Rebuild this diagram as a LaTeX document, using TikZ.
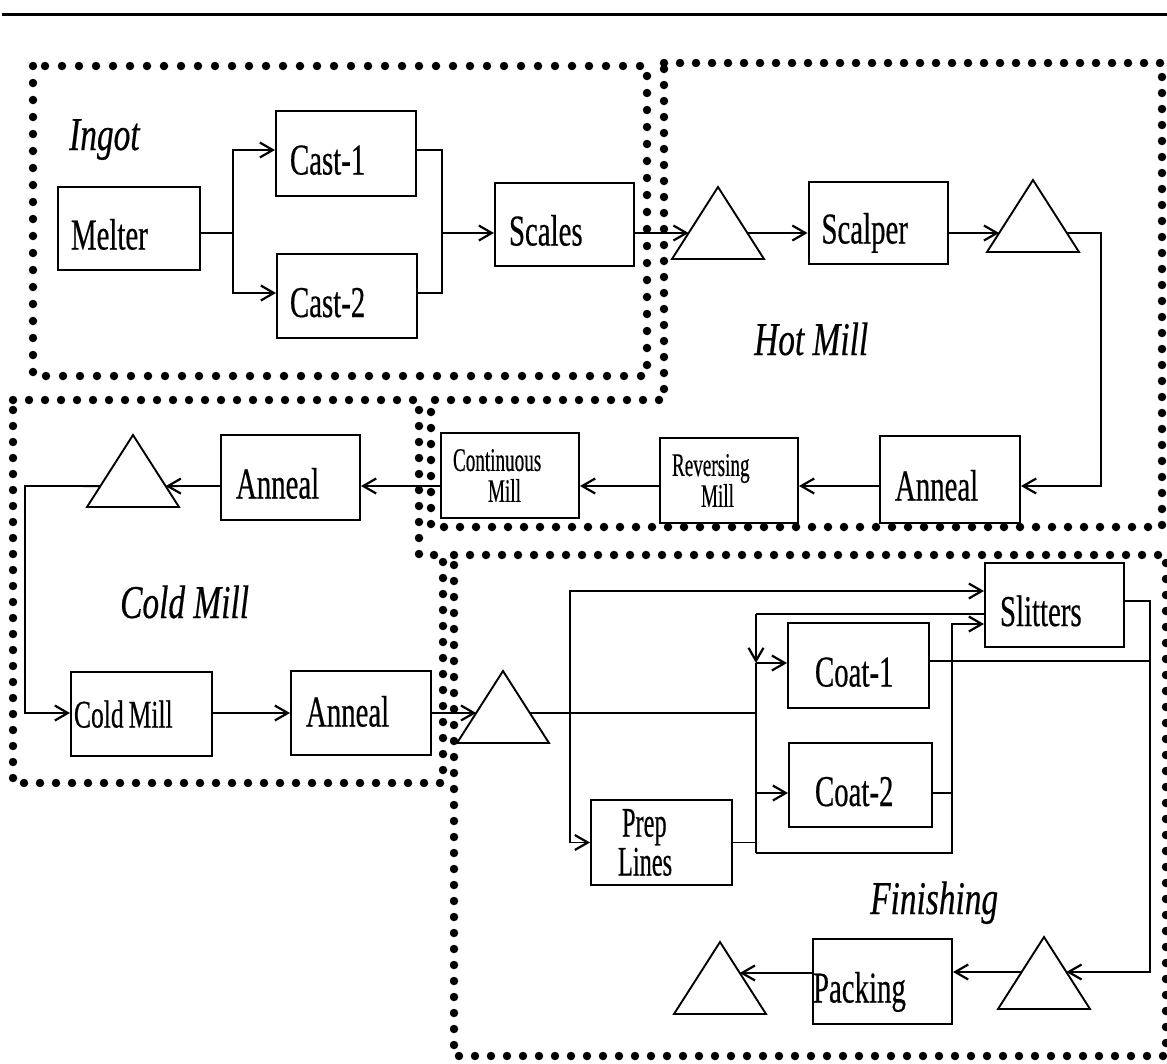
\documentclass[tikz,border=0pt]{standalone}
\usepackage{fontspec}
\usetikzlibrary{arrows.meta,calc}
\newfontfamily\dgA{Liberation Serif}[FakeStretch=0.655,FakeBold=0.4]
\newfontfamily\dgB{Liberation Serif}[FakeStretch=0.58,FakeBold=0.4]
\newfontfamily\dgC{Liberation Serif}[FakeStretch=0.71,FakeBold=0.4]
\newcommand\dgMain{\dgA\fontsize{44pt}{46pt}\selectfont}
\newcommand\dgSmall{\dgB\fontsize{33pt}{31pt}\selectfont}
\newcommand\dgPrep{\dgB\fontsize{42pt}{39pt}\selectfont}
\newcommand\dgCM{\dgA\fontsize{39pt}{40pt}\selectfont}
\newcommand\dgIt{\dgC\itshape\fontsize{47pt}{48pt}\selectfont}
\tikzset{
  bx/.style 2 args={draw, line width=2pt, minimum width=#1pt, minimum height=#2pt,
    text width=#1pt, inner xsep=0pt, inner ysep=0pt, align=left, font=\dgMain},
  lowtxt/.style={text height=42pt, text depth=0pt},
  hightxt/.style={text height=27pt, text depth=0pt},
  conn/.style={line width=1.8pt},
  arr/.style={conn, -{Straight Barb[length=13pt,width=15pt,line width=2.2pt]}},
  triline/.style={line width=1.9pt, line join=miter},
  dotbox/.style={line width=8.5pt, line cap=round, line join=round, dash pattern=on 0pt off #1pt},
  lab/.style={font=\dgIt, inner sep=0pt},
  tri/.pic={\draw[triline] (-46,0) coordinate (-l) -- (0,-72) coordinate (-a) -- (46,0) coordinate (-r) -- cycle;}
}
\begin{document}
\begin{tikzpicture}[x=1pt,y=-1pt]
\useasboundingbox (0,0) rectangle (1167,1063);
% top rule
\draw[line width=3pt] (2,14) -- (1167,14);
% dotted group outlines
\draw[dotbox=17] (33,66) rectangle (647,376);
\draw[dotbox=16] (664,63) -- (1162,63) -- (1162,527) -- (431,527) -- (431,400) -- (664,400) -- cycle;
\draw[dotbox=16] (13,400) -- (419,400) -- (419,555) -- (443,555) -- (443,783) -- (13,783) -- cycle;
\draw[dotbox=16] (454,555) -- (1166,555) -- (1166,1056) -- (454,1056) -- cycle;
% group labels
\node[lab, anchor=base west] (lIngot) at (69,150) {Ingot};
\node[lab, anchor=base west] (lHot) at (754,355) {Hot Mill};
\node[lab, anchor=base west] (lCold) at (120,618) {Cold Mill};
\node[lab, anchor=base west] (lFin) at (870,914) {Finishing};
% boxes
\node[bx={142}{83}, lowtxt] (melter) at (129,228.5) {\hspace*{13pt}Melter};
\node[bx={140}{85}, lowtxt] (cast1) at (346,153.5) {\hspace*{14pt}Cast-1};
\node[bx={140}{84}, lowtxt] (cast2) at (347,296) {\hspace*{13pt}Cast-2};
\node[bx={139}{83}, lowtxt] (scales) at (564.5,224.5) {\hspace*{14pt}Scales};
\node[bx={139}{82}, lowtxt] (scalper) at (878,222.5) {\hspace*{13pt}Scalper};
\node[bx={140}{87}, lowtxt] (hanneal) at (950,479.5) {\hspace*{15pt}Anneal};
\node[bx={138}{85}, font=\dgSmall] (rev) at (729,480.5) {\hspace*{12pt}Reversing\\\hspace*{41pt}Mill};
\node[bx={138}{85}, font=\dgSmall] (cont) at (510,475.5) {\hspace*{12pt}Continuous\\\hspace*{47pt}Mill};
\node[bx={139}{85}, lowtxt] (canneal) at (290.5,477.5) {\hspace*{15pt}Anneal};
\node[bx={141}{84}, font=\dgCM, hightxt] (cmill) at (141.5,714) {\hspace*{3pt}Cold\hspace{5pt}Mill};
\node[bx={140}{84}, hightxt] (canneal2) at (361,713) {\hspace*{15pt}Anneal};
\node[bx={139}{84}, lowtxt] (slit) at (1054.5,605) {\hspace*{15pt}Slitters};
\node[bx={141}{85}, lowtxt] (coat1) at (858.5,665.5) {\hspace*{27pt}Coat-1};
\node[bx={143}{84}, lowtxt] (coat2) at (860.5,785) {\hspace*{26pt}Coat-2};
\node[bx={141}{85}, font=\dgPrep] (prep) at (661.5,842.5) {\hspace*{31pt}Prep\\\hspace*{27pt}Lines};
\node[bx={139}{85}, lowtxt] (pack) at (882.5,981.5) {Packing};
% triangles (apex x, base y)
\pic (t1) at (718,259) {tri};
\pic (t2) at (1033,252) {tri};
\pic (tc) at (133,507) {tri};
\pic (f1) at (503,743) {tri};
\pic (f3) at (1044,1009) {tri};
\pic (f4) at (720,1014) {tri};
% connection points on triangle sides
\coordinate (t1in) at ($(t1-l)!0.361!(t1-a)$);
\coordinate (t1out) at ($(t1-r)!0.361!(t1-a)$);
\coordinate (t2in) at ($(t2-l)!0.264!(t2-a)$);
\coordinate (t2out) at ($(t2-r)!0.264!(t2-a)$);
\coordinate (tcin) at ($(tc-r)!0.29!(tc-a)$);
\coordinate (tcout) at ($(tc-l)!0.29!(tc-a)$);
\coordinate (f1in) at ($(f1-l)!0.417!(f1-a)$);
\coordinate (f1out) at ($(f1-r)!0.417!(f1-a)$);
\coordinate (f3in) at ($(f3-r)!0.514!(f3-a)$);
\coordinate (f3out) at ($(f3-l)!0.514!(f3-a)$);
\coordinate (f4in) at ($(f4-r)!0.57!(f4-a)$);
% row levels and junctions
\coordinate (r1) at (0,233);
\coordinate (r2) at (0,486);
\coordinate (r3) at (0,713);
\coordinate (c150) at (0,150);
\coordinate (c293) at (0,293);
\coordinate (j1) at (233,233);
\coordinate (j2) at (442,233);
\coordinate (hx) at (1101,233);
\coordinate (cx) at (25,486);
\coordinate (vx) at (756,713);
\coordinate (lx) at (570,713);
\coordinate (v614) at (756,614);
\coordinate (v663) at (756,663);
\coordinate (v793) at (756,793);
\coordinate (vb) at (756,853);
\coordinate (wb) at (952,853);
\coordinate (wt) at (952,624);
\coordinate (sx) at (1150,601);
\coordinate (sxb) at (1150,972);
\coordinate (c661) at (0,661);
% Ingot
\draw[conn] (melter.east |- r1) -- (j1);
\draw[arr] (j1) |- (cast1.west |- c150);
\draw[arr] (j1) |- (cast2.west |- c293);
\draw[conn] (cast1.east |- c150) -| (j2);
\draw[conn] (cast2.east |- c293) -| (j2);
\draw[arr] (j2) -- (scales.west |- r1);
% Hot mill
\draw[arr] (scales.east |- r1) -- (t1in);
\draw[arr] (t1out) -- (scalper.west |- r1);
\draw[arr] (scalper.east |- r1) -- (t2in);
\draw[arr] (t2out) -- (hx) |- (hanneal.east |- r2);
\draw[arr] (hanneal.west |- r2) -- (rev.east |- r2);
\draw[arr] (rev.west |- r2) -- (cont.east |- r2);
\draw[arr] (cont.west |- r2) -- (canneal.east |- r2);
% Cold mill
\draw[arr] (canneal.west |- r2) -- (tcin);
\draw[arr] (tcout) -- (cx) |- (cmill.west |- r3);
\draw[arr] (cmill.east |- r3) -- (canneal2.west |- r3);
\draw[arr] (canneal2.east |- r3) -- (f1in);
% Finishing
\draw[conn] (f1out) -- (vx);
\draw[arr] (lx) |- ([yshift=14pt]slit.west);
\draw[arr] (lx) |- (prep.west);
\draw[conn] (slit.west |- v614) -- (v614);
\draw[arr] (v614) -- (v663);
\draw[arr] (v663) -- (coat1.west |- v663);
\draw[conn] (v663) -- (vb);
\draw[arr] (v793) -- (coat2.west |- v793);
\draw[conn] (prep.east) -- (vb |- prep.east);
\draw[arr] (vb) -- (wb) |- (slit.west |- wt);
\draw[conn] (coat2.east |- v793) -- (wb |- v793);
\draw[conn] (coat1.east |- c661) -- (sx |- c661);
\draw[arr] (slit.east |- sx) -- (sx) -- (sxb) -- (f3in);
\draw[arr] (f3out) -- (pack.east |- f3out);
\draw[arr] (pack.west |- f4in) -- (f4in);
\end{tikzpicture}
\end{document}
